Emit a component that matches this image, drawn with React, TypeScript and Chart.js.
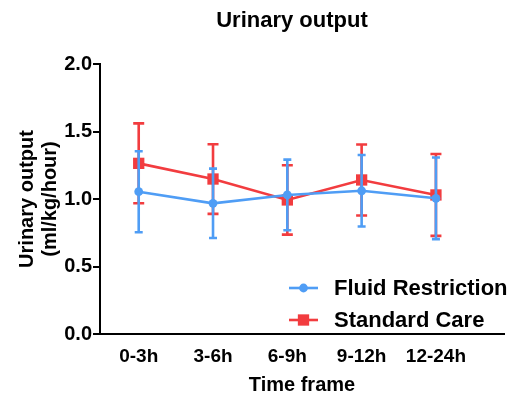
import React, { useEffect, useRef } from "react";
import { Chart, registerables } from "chart.js";

Chart.register(...registerables);

const categories = ["0-3h", "3-6h", "6-9h", "9-12h", "12-24h"];
const fluidRestriction = [1.054, 0.968, 1.03, 1.061, 1.005];
const fluidRestrictionSD = [0.3, 0.257, 0.262, 0.265, 0.302];
const standardCare = [1.264, 1.148, 0.993, 1.141, 1.03];
const standardCareSD = [0.296, 0.258, 0.257, 0.263, 0.303];
const yTicks = [0, 0.5, 1.0, 1.5, 2.0];
const seriesLabels = ["Fluid Restriction", "Standard Care"];
const chartTitle = "Urinary output";
const yTitle = ["Urinary output", "(ml/kg/hour)"];
const xTitle = "Time frame";

const BLUE = "#4f9df5";
const RED = "#f23c3f";
const FAMILY = "'Liberation Sans', Arial, Helvetica, sans-serif";

const errorBarPlugin = {
  id: "errorBars",
  beforeDatasetDraw(chart: any, args: any) {
    const ds = chart.data.datasets[args.index] as any;
    const errs: number[] | undefined = ds.errors;
    if (!errs) return;
    const xs = chart.scales.x;
    const ys = chart.scales.y;
    const ctx = chart.ctx as CanvasRenderingContext2D;
    ctx.save();
    ctx.strokeStyle = ds.borderColor;
    ctx.lineWidth = ds.errorLineWidth;
    ctx.lineCap = "butt";
    ds.data.forEach((p: any, i: number) => {
      const x = xs.getPixelForValue(p.x);
      const yT = ys.getPixelForValue(p.y + errs[i]);
      const yB = ys.getPixelForValue(p.y - errs[i]);
      const hw = ds.capWidth / 2;
      ctx.beginPath();
      ctx.moveTo(x, yT);
      ctx.lineTo(x, yB);
      ctx.moveTo(x - hw, yT);
      ctx.lineTo(x + hw, yT);
      ctx.moveTo(x - hw, yB);
      ctx.lineTo(x + hw, yB);
      ctx.stroke();
    });
    ctx.restore();
  },
};

const titleLegendPlugin = {
  id: "titleLegend",
  afterDraw(chart: any) {
    const ctx = chart.ctx as CanvasRenderingContext2D;
    const area = chart.chartArea;
    ctx.save();
    // title
    ctx.fillStyle = "#000";
    ctx.font = `bold 22px ${FAMILY}`;
    ctx.textAlign = "center";
    ctx.textBaseline = "middle";
    ctx.fillText(chartTitle, 292, 21);
    // legend
    chart.data.datasets.forEach((ds: any, i: number) => {
      const y = area.bottom - 46 + i * 32;
      const x1 = 289;
      const x2 = 318;
      const cx = (x1 + x2) / 2;
      ctx.strokeStyle = ds.borderColor;
      ctx.lineWidth = ds.borderWidth;
      ctx.beginPath();
      ctx.moveTo(x1, y);
      ctx.lineTo(x2, y);
      ctx.stroke();
      ctx.fillStyle = ds.backgroundColor;
      if (ds.pointStyle === "rect") {
        const s = ds.pointRadius * Math.SQRT1_2;
        ctx.fillRect(cx - s, y - s, 2 * s, 2 * s);
      } else {
        ctx.beginPath();
        ctx.arc(cx, y, ds.pointRadius, 0, Math.PI * 2);
        ctx.fill();
      }
      ctx.fillStyle = "#000";
      ctx.font = `bold 22px ${FAMILY}`;
      ctx.textAlign = "left";
      ctx.textBaseline = "middle";
      ctx.fillText(ds.label, 334, y + 1);
    });
    ctx.restore();
  },
};

export default function App() {
  const ref = useRef<HTMLCanvasElement | null>(null);

  useEffect(() => {
    document.body.style.margin = "0";
    const canvas = ref.current;
    if (!canvas) return;
    Chart.defaults.font.family = FAMILY;
    const chart = new Chart(canvas, {
      type: "line",
      data: {
        datasets: [
          {
            label: seriesLabels[0],
            data: categories.map((_, i) => ({ x: i, y: fluidRestriction[i] })),
            errors: fluidRestrictionSD,
            borderColor: BLUE,
            backgroundColor: BLUE,
            borderWidth: 2.6,
            pointStyle: "circle",
            pointRadius: 4.4,
            pointBorderWidth: 0,
            pointHoverRadius: 4.4,
            capWidth: 8,
            errorLineWidth: 2.6,
            tension: 0,
          } as any,
          {
            label: seriesLabels[1],
            data: categories.map((_, i) => ({ x: i, y: standardCare[i] })),
            errors: standardCareSD,
            borderColor: RED,
            backgroundColor: RED,
            borderWidth: 2.6,
            pointStyle: "rect",
            pointRadius: 8,
            pointBorderWidth: 0,
            pointHoverRadius: 8,
            capWidth: 11,
            errorLineWidth: 2.6,
            tension: 0,
          } as any,
        ],
      },
      options: {
        animation: false,
        responsive: false,
        events: [],
        layout: { padding: { top: 64, right: 2, bottom: 0, left: 0 } },
        plugins: {
          legend: { display: false },
          title: { display: false },
          tooltip: { enabled: false },
        },
        scales: {
          x: {
            type: "linear",
            min: -0.521,
            max: 4.916,
            afterBuildTicks: (s: any) => {
              s.ticks = categories.map((_, i) => ({ value: i }));
            },
            afterFit: (s: any) => {
              s.height = 63;
            },
            ticks: {
              callback: (v: any) => categories[Math.round(Number(v))] ?? "",
              font: { size: 19, weight: "bold", family: FAMILY },
              color: "#000",
              padding: 11,
              maxRotation: 0,
              autoSkip: false,
            },
            grid: { drawOnChartArea: false, drawTicks: false },
            border: { color: "#000", width: 2 },
            title: {
              display: true,
              text: xTitle,
              color: "#000",
              font: { size: 20, weight: "bold", family: FAMILY, lineHeight: 1 },
              padding: { top: 0, bottom: 2 },
            },
          },
          y: {
            min: 0,
            max: 2,
            afterBuildTicks: (s: any) => {
              s.ticks = yTicks.map((v) => ({ value: v }));
            },
            afterFit: (s: any) => {
              s.width = 100;
            },
            ticks: {
              callback: (v: any) => Number(v).toFixed(1),
              font: { size: 20, weight: "bold", family: FAMILY },
              color: "#000",
              padding: 1,
            },
            grid: {
              drawOnChartArea: false,
              drawTicks: true,
              tickLength: 7,
              color: "#000",
              lineWidth: 2,
            },
            border: { color: "#000", width: 2 },
            title: {
              display: true,
              text: yTitle,
              color: "#000",
              font: { size: 20, weight: "bold", family: FAMILY, lineHeight: 1.15 },
              padding: { top: 15.5, bottom: 0 },
            },
          },
        },
      } as any,
      plugins: [errorBarPlugin, titleLegendPlugin],
    });
    return () => chart.destroy();
  }, []);

  return (
    <div style={{ width: 512, height: 397 }}>
      <canvas ref={ref} width={512} height={397} />
    </div>
  );
}
